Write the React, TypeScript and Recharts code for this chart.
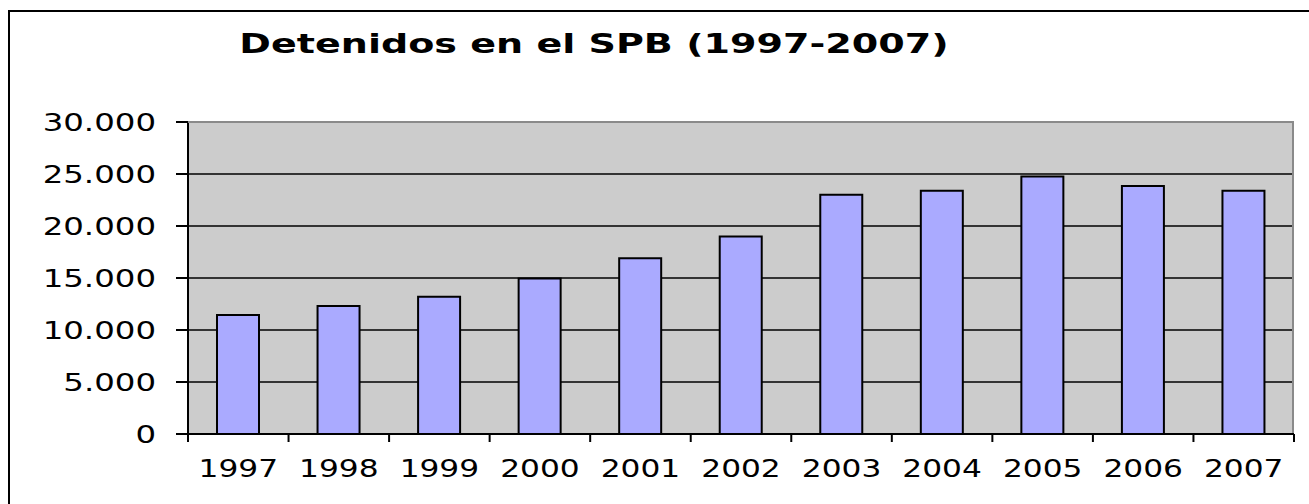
import React from "react";
import { BarChart, Bar, XAxis, YAxis, CartesianGrid } from "recharts";

// Values
const years = ["1997", "1998", "1999", "2000", "2001", "2002", "2003", "2004", "2005", "2006", "2007"];
const detenidos = [11450, 12300, 13200, 14950, 16900, 19000, 23000, 23400, 24750, 23850, 23400];
const yTicks = [0, 5000, 10000, 15000, 20000, 25000, 30000];
const title = "Detenidos en el SPB (1997-2007)";

const data = years.map((year, i) => ({ year, detenidos: detenidos[i] }));

// layout
const CW = 1309;
const CH = 504;
const MARGIN = { top: 122, right: 15, left: 88, bottom: 20 };
const Y_W = 100;
const X_H = 50;
const PL = MARGIN.left + Y_W;
const PR = CW - MARGIN.right;
const PT = MARGIN.top;
const PB = CH - MARGIN.bottom - X_H;
const BAND = (PR - PL) / years.length;
const FONT = "'DejaVu Sans', Verdana, sans-serif";

const fmt = (v: number) => v.toString().replace(/\B(?=(\d{3})+(?!\d))/g, ".");

const YTick = (props: any) => {
  const { y, payload } = props;
  return (
    <text
      x={0}
      y={0}
      dy="0.36em"
      transform={`translate(${PL - 32},${y}) scale(1.35,1)`}
      textAnchor="end"
      fontSize={24}
      fontFamily={FONT}
      fill="#000"
    >
      {fmt(payload.value)}
    </text>
  );
};

const XTick = (props: any) => {
  const { x, payload, index } = props;
  const left = x - BAND / 2;
  return (
    <g>
      <line x1={left} x2={left} y1={PB} y2={PB + 8} stroke="#000" strokeWidth={2} />
      {index === years.length - 1 && (
        <line x1={left + BAND} x2={left + BAND} y1={PB} y2={PB + 8} stroke="#000" strokeWidth={2} />
      )}
      <text
        x={0}
        y={0}
        transform={`translate(${x},${PB + 43}) scale(1.25,1)`}
        textAnchor="middle"
        fontSize={25}
        fontFamily={FONT}
        fill="#000"
      >
        {payload.value}
      </text>
    </g>
  );
};

export default function App() {
  return (
    <div style={{ position: "fixed", left: 0, top: 0, width: CW, height: CH, overflow: "hidden", background: "#fff" }}>
      {/* outer chart frame */}
      <div
        style={{
          position: "absolute",
          left: 8,
          top: 10,
          width: CW,
          height: CH,
          borderTop: "2px solid #000",
          borderLeft: "2px solid #000",
        }}
      />
      <div style={{ position: "absolute", left: 0, top: 0 }}>
        <BarChart width={CW} height={CH} data={data} margin={MARGIN}>
          <CartesianGrid vertical={false} fill="#cccccc" fillOpacity={1} stroke="#000" strokeWidth={1.5} />
          <XAxis
            dataKey="year"
            height={X_H}
            interval={0}
            tickLine={false}
            axisLine={{ stroke: "#000", strokeWidth: 2 }}
            tick={<XTick />}
          />
          <YAxis
            width={Y_W}
            domain={[0, 30000]}
            ticks={yTicks}
            interval={0}
            tickSize={12}
            tickLine={{ stroke: "#000", strokeWidth: 2 }}
            axisLine={{ stroke: "#000", strokeWidth: 2 }}
            tick={<YTick />}
          />
          <Bar dataKey="detenidos" fill="#aaaaff" stroke="#000" strokeWidth={2} barSize={42} isAnimationActive={false} />
        </BarChart>
      </div>
      {/* plot area border (top and right, grey) */}
      <div
        style={{
          position: "absolute",
          left: PL,
          top: PT - 1,
          width: PR - PL,
          height: PB - PT,
          borderTop: "2px solid #8a8a8a",
          borderRight: "2px solid #8a8a8a",
          boxSizing: "border-box",
          pointerEvents: "none",
        }}
      />
      <svg width={CW} height={80} style={{ position: "absolute", left: 0, top: 0 }}>
        <text
          x={0}
          y={0}
          transform="translate(594,53) scale(1.41,1)"
          textAnchor="middle"
          fontSize={27}
          fontWeight="bold"
          fontFamily={FONT}
          fill="#000"
        >
          {title}
        </text>
      </svg>
    </div>
  );
}
